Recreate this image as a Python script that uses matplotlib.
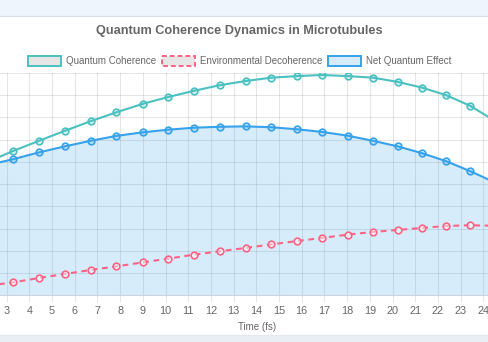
import matplotlib
matplotlib.use('Agg')
import matplotlib.pyplot as plt
from matplotlib.patches import Rectangle
import numpy as np

plt.rcParams['font.family'] = ['Liberation Sans', 'DejaVu Sans']

# values (only part of the chart is visible)
time_fs = [2.13, 3.28, 4.43, 5.57, 6.70, 7.83, 8.99, 10.12, 11.26, 12.39, 13.53,
           14.66, 15.78, 16.89, 18.03, 19.14, 20.23, 21.31, 22.37, 23.41, 24.44]
coherence = [0.598, 0.649, 0.695, 0.740, 0.783, 0.823, 0.861, 0.892, 0.920, 0.945, 0.964,
             0.979, 0.986, 0.991, 0.986, 0.979, 0.960, 0.934, 0.900, 0.853, 0.789]
decoherence = [0.043, 0.058, 0.078, 0.096, 0.114, 0.130, 0.148, 0.165, 0.183, 0.198, 0.213,
               0.229, 0.244, 0.258, 0.273, 0.285, 0.294, 0.303, 0.312, 0.315, 0.313]
net_effect = [0.585, 0.612, 0.643, 0.670, 0.695, 0.717, 0.733, 0.745, 0.754, 0.758, 0.760,
              0.756, 0.747, 0.735, 0.718, 0.695, 0.670, 0.639, 0.603, 0.559, 0.511]

x_ticks = list(range(3, 25))
labels = ['Quantum Coherence', 'Environmental Decoherence', 'Net Quantum Effect']
title = 'Quantum Coherence Dynamics in Microtubules'
x_title = 'Time (fs)'

teal = (75/255, 192/255, 192/255)
pink = (255/255, 99/255, 132/255)
blue = (54/255, 162/255, 235/255)
text_c = '#666666'
small = 7.0

W, H = 488, 342
fig = plt.figure(figsize=(W/100, H/100), dpi=100)
fig.patch.set_facecolor('white')

# main plot area (extends past the visible window on left/right)
ax = fig.add_axes([0, (H - 295.3)/H, 1, (295.3 - 73)/H])
ax.set_xlim(2.709, 24.207)
ax.set_ylim(0, 1)
ax.set_axisbelow(True)
ax.set_xticks(x_ticks)
ax.set_yticks(np.arange(0, 1.01, 0.1))
ax.grid(True, color='black', alpha=0.1, lw=0.75)
ax.tick_params(axis='y', length=0, labelleft=False)
ax.tick_params(axis='x', length=5.2, width=0.75, color='#e6e6e6', pad=2.2,
               labelsize=7.8, labelcolor=text_c)
for s in ['left', 'right', 'top']:
    ax.spines[s].set_visible(False)
ax.spines['bottom'].set_color('#c9d6df')
ax.spines['bottom'].set_linewidth(0.75)

ms, mew, lw = 4.8, 1.2, 1.5
ax.fill_between(time_fs, net_effect, 0, color=(*blue, 0.2), lw=0, zorder=1)
ax.plot(time_fs, coherence, color=teal, lw=lw, marker='o', ms=ms, mew=mew,
        mfc=(*teal, 0.2), mec=teal, zorder=3)
ax.plot(time_fs, decoherence, color=pink, lw=lw, ls=(0, (2.8, 2.2)), marker='o', ms=ms,
        mew=mew, mfc=(1, 1, 1, 0.5), mec=pink, zorder=3)
ax.plot(time_fs, net_effect, color=blue, lw=lw, marker='o', ms=ms, mew=mew,
        mfc=(*blue, 0.2), mec=blue, zorder=3)

# overlay in pixel coords for page chrome, title and legend
ov = fig.add_axes([0, 0, 1, 1])
ov.set_xlim(0, W)
ov.set_ylim(H, 0)
ov.axis('off')
ov.patch.set_visible(False)

ov.add_patch(Rectangle((0, 0), W, 15.5, color='#eef5fc', lw=0))
ov.plot([0, W], [15.5, 15.5], color='#d8dfe6', lw=0.9)
ov.add_patch(Rectangle((0, 335), W, 7, color='#e9eef4', lw=0))
ov.plot([0, W], [335, 335], color='#e2e8ee', lw=0.8)

ov.text(239, 31, title, ha='center', va='center', fontsize=9.2,
        fontweight='bold', color=text_c)

legend_boxes = [
    (28, 60.7, teal, (0.9, 0.9, 0.9), '-'),
    (162.3, 194.7, pink, (0.9, 0.9, 0.9), (0, (2.5, 1.5))),
    (328.3, 360.7, blue, (*blue, 0.2), '-'),
]
for (x0, x1, ec, fc, ls), lab in zip(legend_boxes, labels):
    ov.add_patch(Rectangle((x0, 55.5), x1 - x0, 10, facecolor=fc, edgecolor=ec,
                           lw=1.4, ls=ls))
    ov.text(x1 + 5.3, 60.5, lab, ha='left', va='center', fontsize=small, color=text_c)

ov.text(256.7, 326.5, x_title, ha='center', va='center', fontsize=small, color=text_c)

fig.savefig('out.png', dpi=100)
